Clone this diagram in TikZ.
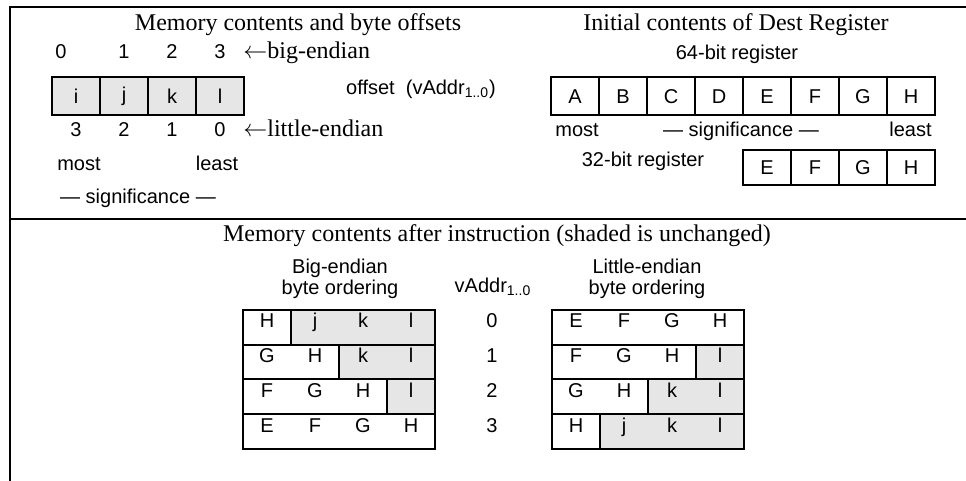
\documentclass[tikz,border=0pt]{standalone}
\usepackage{fontspec}
\setmainfont{Liberation Serif}
\setsansfont{Liberation Sans}
\usepackage{xcolor}
\definecolor{Kept}{HTML}{E6E6E6}

\begin{document}
\begin{tikzpicture}[x=0.5pt,y=-0.5pt,
  ttl/.style={font=\fontsize{12}{14}\selectfont,inner sep=0pt,anchor=base},
  txt/.style={font=\sffamily\fontsize{10}{12}\selectfont,inner sep=0pt,anchor=base},
  hdr/.style={font=\sffamily\fontsize{10}{10.5}\selectfont,inner sep=0pt,align=center},
  cell/.style={draw,line width=1pt,minimum width=24pt,minimum height=19pt,inner sep=0pt,font=\sffamily\fontsize{10}{12}\selectfont},
  kept/.style={fill=Kept},
  tbl/.style={line width=1pt},
  frame/.style={line width=1.1pt}]
\def\xB{243}\def\xL{552}\def\rh{34.75}
\useasboundingbox (0,0) rectangle (966,481);
\draw[frame] (10,481) -- (10,7) -- (966,7);
\draw[frame] (10,219) -- (966,219);
% memory contents
\node[ttl] (memttl) at (298,31) {Memory contents and byte offsets};
\foreach \c/\b/\l/\bx [count=\i from 0] in {i/0/3/61,j/1/2/124,k/2/1/172,l/3/0/220}{
  \node[cell,kept] (mem\i) at (76+48*\i,96) {\c};
  \node[txt] (bo\i) at (\bx,59) {\b};
  \node[txt] (lo\i) at (76+48*\i,137) {\l};
}
\node[ttl,anchor=base west] (bigend) at (243,59) {$\leftarrow$big-endian};
\node[ttl,anchor=base west] (litend) at (243,137) {$\leftarrow$little-endian};
\node[txt] (memmost) at (79,171) {most};
\node[txt] (memleast) at (217,171) {least};
\node[txt] (memsig) at (138,204) {— significance —};
\node[txt] (offs) at (421,95) {offset\ \ (vAddr\textsubscript{1..0})};
% dest register
\node[ttl] (regttl) at (736,31) {Initial contents of Dest Register};
\node[txt] (r64) at (737,60) {64-bit register};
\foreach \c [count=\i from 0] in {A,B,C,D,E,F,G,H}
  \node[cell] (reg\c) at (575+48*\i,96.5) {\c};
\node[txt,anchor=base west] (regmost) at (555,137) {most};
\node[txt] (regsig) at (741,137) {— significance —};
\node[txt,anchor=base east] (regleast) at (932,137) {least};
\node[txt] (r32) at (643,167) {32-bit register};
\foreach \c [count=\i from 4] in {E,F,G,H}
  \node[cell,minimum height=17.5pt] (half\c) at (575+48*\i,167.5) {\c};
% after the instruction
\node[ttl] (afterttl) at (497,242) {Memory contents after instruction (shaded is unchanged)};
\node[hdr] (behdr) at (340,279) {Big-endian\\byte ordering};
\node[hdr] (lehdr) at (647,279) {Little-endian\\byte ordering};
\node[txt] (vaddr) at (493,293) {vAddr\textsubscript{1..0}};
\foreach \r in {0,...,3}
  \node[txt] (va\r) at (492,328+\rh*\r) {\r};
\foreach \r/\n/\cs in {0/1/{H,j,k,l},1/2/{G,H,k,l},2/3/{F,G,H,l},3/4/{E,F,G,H}}{
  \fill[kept] (\xB+48*\n,310+\rh*\r) rectangle (\xB+192,310+\rh*\r+\rh);
  \draw[tbl] (\xB,310+\rh*\r) rectangle (\xB+192,310+\rh*\r+\rh);
  \draw[tbl] (\xB+48*\n,310+\rh*\r) -- (\xB+48*\n,310+\rh*\r+\rh);
  \foreach \c [count=\k from 0] in \cs
    \node[txt] (be\r\k) at (\xB+24+48*\k,328+\rh*\r) {\c};
}
\foreach \r/\n/\cs in {0/4/{E,F,G,H},1/3/{F,G,H,l},2/2/{G,H,k,l},3/1/{H,j,k,l}}{
  \fill[kept] (\xL+48*\n,310+\rh*\r) rectangle (\xL+192,310+\rh*\r+\rh);
  \draw[tbl] (\xL,310+\rh*\r) rectangle (\xL+192,310+\rh*\r+\rh);
  \draw[tbl] (\xL+48*\n,310+\rh*\r) -- (\xL+48*\n,310+\rh*\r+\rh);
  \foreach \c [count=\k from 0] in \cs
    \node[txt] (le\r\k) at (\xL+24+48*\k,328+\rh*\r) {\c};
}
\end{tikzpicture}
\end{document}
